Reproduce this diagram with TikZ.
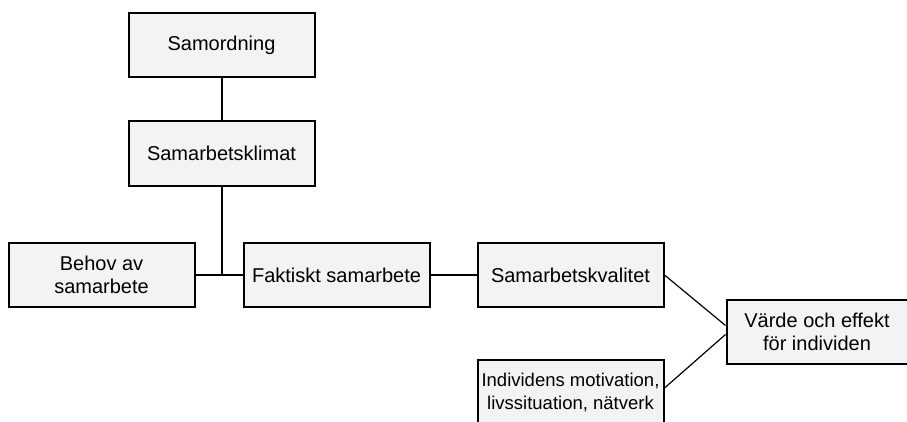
\documentclass[tikz,border=0pt]{standalone}
\usepackage{fontspec}
\setmainfont{Liberation Sans}
\definecolor{boxfill}{RGB}{242,243,245}
\begin{document}
\begin{tikzpicture}[x=1pt,y=1pt,
  box/.style={draw=black,line width=2pt,fill=boxfill,minimum width=186pt,minimum height=64pt,inner sep=0pt,align=center,font=\fontsize{20}{23}\selectfont},
  conn/.style={draw=black,line width=2pt},
  thin/.style={draw=black,line width=1.2pt}]
\useasboundingbox (0,0) rectangle (907,421);
\clip (0,0) rectangle (907,421);
\node[box] (samord) at (221.5,376) {Samordning};
\node[box] (klimat) at (221.5,267.5) {Samarbetsklimat};
\node[box] (behov) at (101.5,146) {Behov av\\samarbete};
\node[box] (fakt) at (336.5,146) {Faktiskt samarbete};
\node[box] (kval) at (570.5,146) {Samarbetskvalitet};
\node[box,minimum width=181pt] (varde) at (817,89.5) {V\"arde och effekt\\f\"or individen};
\node[box,font=\fontsize{18.5}{23}\selectfont] (indiv) at (570.5,29) {Individens motivation,\\livssituation, n\"atverk};
\coordinate (junc) at (klimat.south |- behov.east);
\draw[conn] (samord) -- (klimat);
\draw[conn] (klimat.south) -- (junc);
\draw[conn] (behov.east) -- (fakt.west);
\draw[conn] (fakt.east) -- (kval.west);
\draw[thin] (kval.east) -- ([yshift=6pt]varde.west);
\draw[thin] ([yshift=4pt]indiv.east) -- ([yshift=-3pt]varde.west);
\end{tikzpicture}
\end{document}
